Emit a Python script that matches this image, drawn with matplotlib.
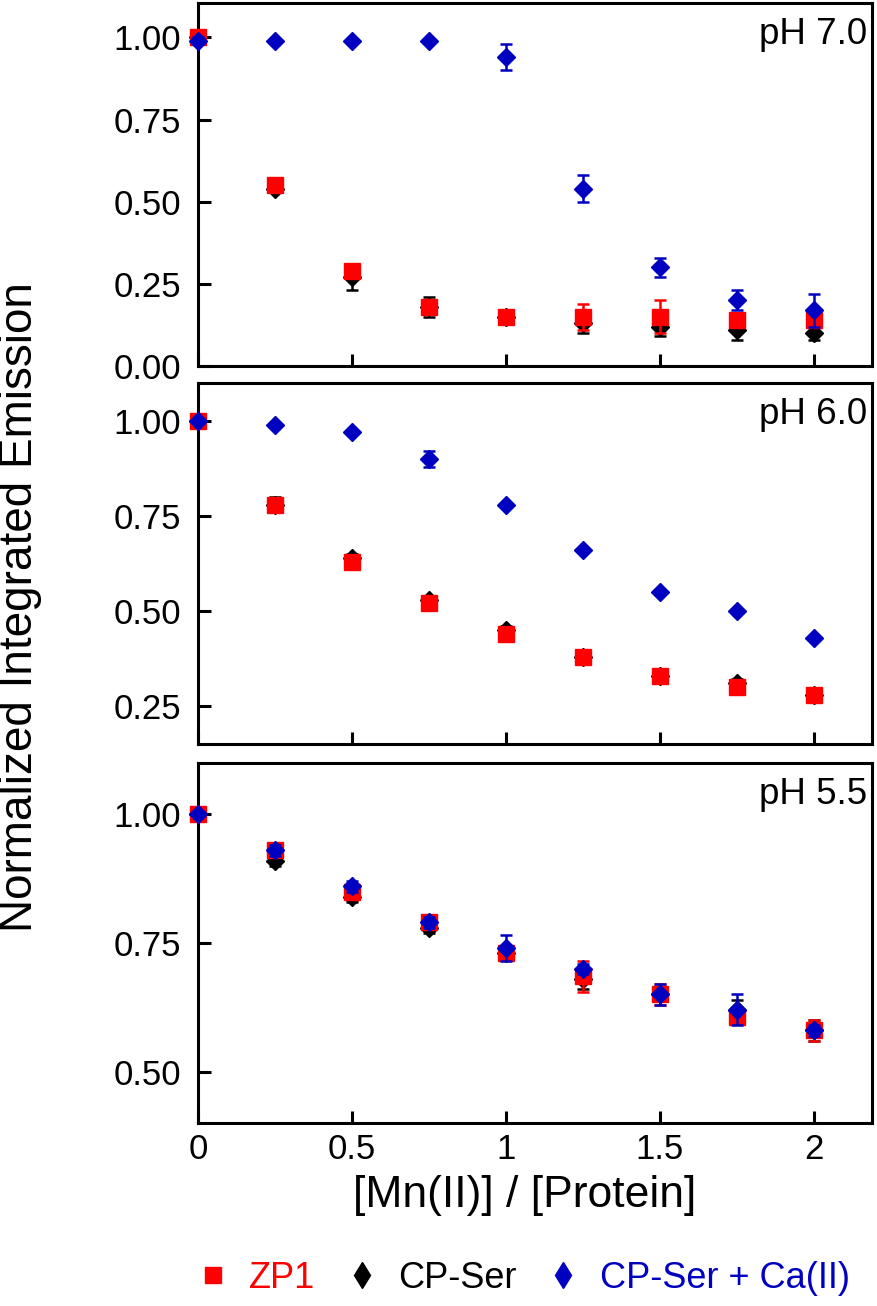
"""Mn(II) titration of ZP1 and CP-Ser at three pH values (stacked panels)."""

import matplotlib

matplotlib.use("Agg")
import matplotlib.pyplot as plt
from matplotlib.lines import Line2D

plt.rcParams["font.family"] = ["Liberation Sans", "DejaVu Sans"]

# x positions: [Mn(II)] / [Protein]
mn_ratio = [0.0, 0.25, 0.5, 0.75, 1.0, 1.25, 1.5, 1.75, 2.0]

# pH 7.0
zp1_ph70 = [1.00, 0.55, 0.29, 0.18, 0.15, 0.15, 0.15, 0.14, 0.14]
zp1_ph70_err = [0.01, 0.01, 0.02, 0.02, 0.02, 0.04, 0.05, 0.02, 0.02]
cpser_ph70 = [1.00, 0.54, 0.27, 0.18, 0.15, 0.13, 0.12, 0.11, 0.10]
cpser_ph70_err = [0.01, 0.01, 0.04, 0.03, 0.01, 0.03, 0.03, 0.03, 0.02]
cpca_ph70 = [0.99, 0.99, 0.99, 0.99, 0.94, 0.54, 0.30, 0.20, 0.17]
cpca_ph70_err = [0.01, 0.00, 0.00, 0.00, 0.04, 0.04, 0.03, 0.03, 0.05]

# pH 6.0
zp1_ph60 = [1.00, 0.78, 0.63, 0.52, 0.44, 0.38, 0.33, 0.30, 0.28]
zp1_ph60_err = [0.01, 0.01, 0.01, 0.01, 0.01, 0.01, 0.01, 0.01, 0.01]
cpser_ph60 = [1.00, 0.78, 0.64, 0.53, 0.45, 0.38, 0.33, 0.31, 0.28]
cpser_ph60_err = [0.01, 0.02, 0.01, 0.01, 0.01, 0.01, 0.01, 0.01, 0.01]
cpca_ph60 = [1.00, 0.99, 0.97, 0.90, 0.78, 0.66, 0.55, 0.50, 0.43]
cpca_ph60_err = [0.00, 0.00, 0.00, 0.02, 0.00, 0.00, 0.00, 0.00, 0.00]

# pH 5.5
zp1_ph55 = [1.00, 0.93, 0.85, 0.79, 0.73, 0.685, 0.65, 0.607, 0.58]
zp1_ph55_err = [0.01, 0.01, 0.01, 0.01, 0.01, 0.03, 0.02, 0.01, 0.02]
cpser_ph55 = [1.00, 0.91, 0.84, 0.78, 0.73, 0.68, 0.65, 0.62, 0.58]
cpser_ph55_err = [0.01, 0.01, 0.01, 0.01, 0.01, 0.02, 0.01, 0.02, 0.02]
cpca_ph55 = [1.00, 0.93, 0.86, 0.79, 0.74, 0.70, 0.65, 0.62, 0.58]
cpca_ph55_err = [0.00, 0.01, 0.01, 0.01, 0.025, 0.01, 0.02, 0.03, 0.01]

panel_titles = ["pH 7.0", "pH 6.0", "pH 5.5"]
panel_ylims = [(0.0, 1.105), (0.15, 1.10), (0.40, 1.10)]
panel_yticks = [
    [0.0, 0.25, 0.5, 0.75, 1.0],
    [0.25, 0.5, 0.75, 1.0],
    [0.5, 0.75, 1.0],
]
xtick_vals = [0, 0.5, 1, 1.5, 2]
xtick_labels = ["0", "0.5", "1", "1.5", "2"]

series_names = ["ZP1", "CP-Ser", "CP-Ser + Ca(II)"]

RED = "#ff0000"
BLACK = "#000000"
BLUE = "#0000c0"

panels = [
    (zp1_ph70, zp1_ph70_err, cpser_ph70, cpser_ph70_err, cpca_ph70, cpca_ph70_err),
    (zp1_ph60, zp1_ph60_err, cpser_ph60, cpser_ph60_err, cpca_ph60, cpca_ph60_err),
    (zp1_ph55, zp1_ph55_err, cpser_ph55, cpser_ph55_err, cpca_ph55, cpca_ph55_err),
]

W, H = 877, 1306
fig = plt.figure(figsize=(W / 100, H / 100), dpi=100)

left, right = 198 / W, 872 / W
# (top, bottom) in pixels for each panel
panel_px = [(3, 366), (383, 744), (763, 1123)]

for i, (zp1, zp1_e, cps, cps_e, cpc, cpc_e) in enumerate(panels):
    top_px, bot_px = panel_px[i]
    ax = fig.add_axes([left, 1 - bot_px / H, right - left, (bot_px - top_px) / H])

    common = dict(linestyle="none", capsize=4, elinewidth=1.8, capthick=1.8,
                  clip_on=False)
    # draw order: CP-Ser below, ZP1 middle, CP-Ser + Ca(II) on top
    ax.errorbar(mn_ratio, cps, yerr=cps_e, marker="D", markersize=9,
                color=BLACK, ecolor=BLACK, zorder=3, **common)
    ax.errorbar(mn_ratio, zp1, yerr=zp1_e, marker="s", markersize=11.5,
                color=RED, ecolor=RED, zorder=4, **common)
    ax.errorbar(mn_ratio, cpc, yerr=cpc_e, marker="D", markersize=9.5,
                color=BLUE, ecolor=BLUE, zorder=5, **common)

    ax.set_xlim(0, 2.19)
    ax.set_ylim(*panel_ylims[i])
    ax.set_yticks(panel_yticks[i])
    ax.set_yticklabels([f"{v:.2f}" for v in panel_yticks[i]])
    ax.set_xticks(xtick_vals)
    if i == 2:
        ax.set_xticklabels(xtick_labels)
    else:
        ax.set_xticklabels([])

    ax.tick_params(axis="both", direction="in", length=9, width=2.2,
                   labelsize=25, colors=BLACK)
    ax.tick_params(axis="y", pad=12)
    ax.tick_params(axis="x", pad=7)
    for spine in ax.spines.values():
        spine.set_linewidth(2.2)
        spine.set_color(BLACK)

    ax.text(0.993, 0.962, panel_titles[i], transform=ax.transAxes,
            ha="right", va="top", fontsize=26.5, color=BLACK)

fig.text(20 / W, 1 - 607 / H, "Normalized Integrated Emission",
         rotation=90, ha="center", va="center", fontsize=33)
fig.text(525 / W, 1 - 1196 / H, "[Mn(II)] / [Protein]",
         ha="center", va="center", fontsize=32)

handles = [
    Line2D([], [], linestyle="none", marker="s", markersize=11, color=RED),
    Line2D([], [], linestyle="none", marker="d", markersize=13, color=BLACK),
    Line2D([], [], linestyle="none", marker="d", markersize=13, color=BLUE),
]
leg = fig.legend(handles, series_names, ncol=3, loc="center",
                 bbox_to_anchor=(522 / W, 1 - 1278 / H), frameon=False,
                 fontsize=26, handlelength=1.0, handletextpad=0.5,
                 columnspacing=0.8, borderpad=0)
for txt, col in zip(leg.get_texts(), [RED, BLACK, BLUE]):
    txt.set_color(col)

fig.savefig("out.png", dpi=100)
